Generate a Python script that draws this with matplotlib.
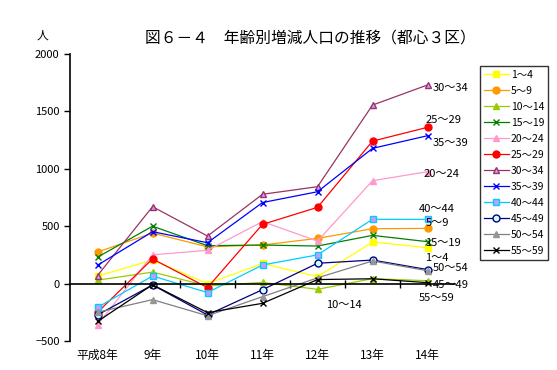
import numpy as np
import matplotlib
matplotlib.use('Agg')
from matplotlib import pyplot as plt

plt.rcParams['font.family'] = ['Noto Sans CJK JP', 'DejaVu Sans']

years = ['平成8年', '9年', '10年', '11年', '12年', '13年', '14年']
groups = ['1～4', '5～9', '10～14', '15～19', '20～24', '25～29',
          '30～34', '35～39', '40～44', '45～49', '50～54', '55～59']

v1_4 = [65, 205, 0, 175, 60, 362, 313]
v5_9 = [275, 440, 320, 336, 394, 478, 481]
v10_14 = [30, 100, -20, 10, -50, 43, 25]
v15_19 = [230, 500, 330, 336, 327, 420, 365]
v20_24 = [-360, 250, 290, 540, 370, 896, 975]
v25_29 = [-250, 215, -35, 516, 664, 1241, 1361]
v30_34 = [70, 670, 414, 778, 844, 1555, 1730]
v35_39 = [160, 452, 356, 706, 800, 1178, 1288]
v40_44 = [-207, 66, -78, 162, 250, 560, 559]
v45_49 = [-273, -12, -273, -53, 177, 205, 122]
v50_54 = [-250, -140, -280, -114, 50, 197, 112]
v55_59 = [-330, -10, -253, -172, 35, 42, 8]

series = [v1_4, v5_9, v10_14, v15_19, v20_24, v25_29,
          v30_34, v35_39, v40_44, v45_49, v50_54, v55_59]

# line colour, marker, marker face, marker edge
styles = [
    ('#FFFF00', 's', '#FFFF00', '#FFFF00'),
    ('#FF9900', 'o', '#FF9900', '#FF9900'),
    ('#99CC00', '^', '#99CC00', '#99CC00'),
    ('#008000', 'x', '#008000', '#008000'),
    ('#FF99CC', '^', '#FF99CC', '#FF99CC'),
    ('#FF0000', 'o', '#FF0000', '#FF0000'),
    ('#993366', '^', '#CC99FF', '#993366'),
    ('#0000FF', 'x', '#0000FF', '#0000FF'),
    ('#00CCFF', 's', '#CC99FF', '#00CCFF'),
    ('#000080', 'o', '#CCFFFF', '#000080'),
    ('#808080', '^', '#969696', '#969696'),
    ('#000000', 'x', '#000000', '#000000'),
]

# end-of-line labels (x index, value)
end_labels = [
    ('30～34', 6.09, 1703), ('25～29', 5.96, 1424), ('35～39', 6.09, 1224),
    ('20～24', 5.93, 954), ('40～44', 5.84, 650), ('5～9', 5.96, 528),
    ('15～19', 5.96, 354), ('1～4', 5.96, 223), ('50～54', 6.09, 136),
    ('45～49', 6.09, -12), ('55～59', 5.84, -125), ('10～14', 4.15, -186),
]

fig = plt.figure(figsize=(5.57, 3.70), dpi=100)
ax = fig.add_axes([0.1257, 0.0784, 0.6912, 0.7757])

x = np.arange(len(years))
for name, vals, (c, m, fc, ec) in zip(groups, series, styles):
    ax.plot(x, vals, color=c, lw=0.9, marker=m, markersize=5,
            markerfacecolor=fc, markeredgecolor=ec, markeredgewidth=1.0,
            label=name)

for t, xi, yi in end_labels:
    ax.text(xi, yi, t, fontsize=8, va='center', ha='left')

ax.set_xlim(-0.5, 6.5)
ax.set_ylim(-500, 2000)
ax.set_yticks([-500, 0, 500, 1000, 1500, 2000])
ax.tick_params(axis='y', direction='out', length=4, width=1, labelsize=8)

ax.spines['top'].set_visible(False)
ax.spines['right'].set_visible(False)
ax.spines['left'].set_linewidth(1.2)
ax.spines['bottom'].set_position(('data', 0))
ax.spines['bottom'].set_linewidth(1.2)

ax.set_xticks(x)
ax.set_xticklabels(years)
ax.set_xticks(np.arange(0.5, 6.5, 1.0), minor=True)
ax.tick_params(axis='x', which='major', length=0, pad=47, labelsize=8.5)
ax.tick_params(axis='x', which='minor', direction='inout', length=6, width=1)

fig.text(0.077, 0.905, '人', fontsize=8.5, ha='center', va='center')
fig.text(0.558, 0.897, '図６－４　年齢別増減人口の推移（都心３区）',
         fontsize=11.3, ha='center', va='center')

leg = ax.legend(loc='upper left', bbox_to_anchor=(0.862, 0.822),
                bbox_transform=fig.transFigure, fontsize=7.5, frameon=True,
                fancybox=False, handlelength=2.4, handletextpad=0.2,
                labelspacing=0.58, borderpad=0.35, borderaxespad=0.0)
leg.get_frame().set_edgecolor('black')
leg.get_frame().set_linewidth(1.0)

fig.savefig('out.png', dpi=100)
